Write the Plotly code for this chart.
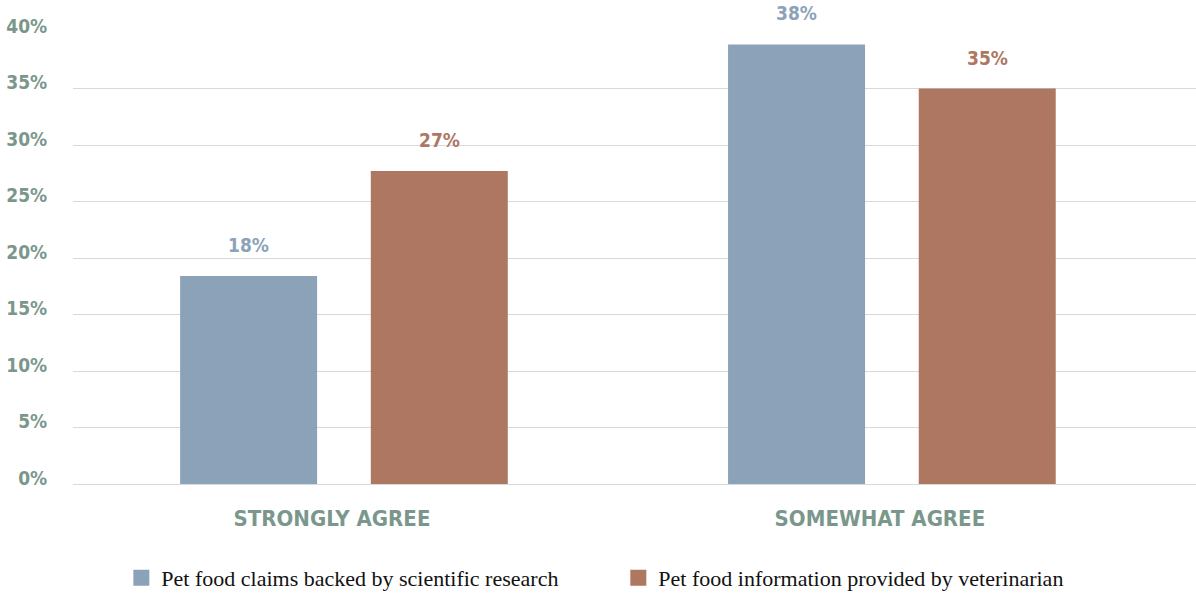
import plotly.graph_objects as go

categories = ['STRONGLY AGREE', 'SOMEWHAT AGREE']
series_names = ['Pet food claims backed by scientific research',
                'Pet food information provided by veterinarian']
research_values = [18.4, 38.9]
vet_values = [27.7, 35.0]
value_labels = [['18%', '38%'], ['27%', '35%']]
y_ticks = [0, 5, 10, 15, 20, 25, 30, 35, 40]

COLORS = ['#8ca2b8', '#ad7762']
AXIS_TEXT = '#7b978c'
CONDENSED = 'DejaVu Sans Condensed, Liberation Sans Narrow, sans-serif'

BAR_WIDTH = 0.25
OFFSETS = [-0.299, 0.049]

fig = go.Figure()
x_idx = list(range(len(categories)))

for i, (name, vals) in enumerate(zip(series_names, [research_values, vet_values])):
    fig.add_trace(go.Bar(
        x=x_idx, y=vals, width=BAR_WIDTH, offset=OFFSETS[i],
        marker=dict(color=COLORS[i], line=dict(width=0)),
        showlegend=False, hoverinfo='skip',
    ))
    # value labels above the bars
    for j, v in enumerate(vals):
        fig.add_annotation(
            x=x_idx[j] + OFFSETS[i] + BAR_WIDTH / 2, y=v, text=value_labels[i][j],
            showarrow=False, yanchor='middle', yshift=31,
            font=dict(family=CONDENSED, size=19, color=COLORS[i], weight='bold'),
        )
    # legend entries with bigger squares
    fig.add_trace(go.Scatter(
        x=[None], y=[None], mode='markers', name=name,
        marker=dict(symbol='square', size=20, color=COLORS[i]),
    ))

fig.update_layout(
    width=1196, height=593,
    margin=dict(l=73, r=0, t=32, b=109, autoexpand=False),
    plot_bgcolor='white', paper_bgcolor='white',
    barmode='overlay',
    legend=dict(
        orientation='h', xref='container', x=0.517, xanchor='center',
        yref='paper', y=-0.208, yanchor='middle',
        font=dict(family='Liberation Serif, serif', size=22, color='#111111'),
        itemwidth=30, traceorder='normal', entrywidth=452,
    ),
)
fig.update_xaxes(
    range=[-0.4945, 1.555], tickmode='array', tickvals=x_idx, ticktext=categories,
    showgrid=False, zeroline=False, showline=False, automargin=False,
    ticks='outside', ticklen=15, tickcolor='rgba(0,0,0,0)',
    tickfont=dict(family=CONDENSED, size=22, color=AXIS_TEXT, weight='bold'),
    ticklabelshift=-12,
)
fig.update_yaxes(
    range=[0, 40], tickmode='array', tickvals=y_ticks,
    ticktext=[f'{t}%' for t in y_ticks],
    showgrid=True, gridcolor='#d9d9d9', gridwidth=1,
    zeroline=True, zerolinecolor='#d9d9d9', zerolinewidth=1,
    showline=False, automargin=False,
    ticks='outside', ticklen=21, tickcolor='rgba(0,0,0,0)',
    tickfont=dict(family=CONDENSED, size=19, color=AXIS_TEXT, weight='bold'),
    ticklabelshift=-6,
)

fig.write_html('out.html', config={'displayModeBar': False},
               post_script="document.body.style.margin='0';")
